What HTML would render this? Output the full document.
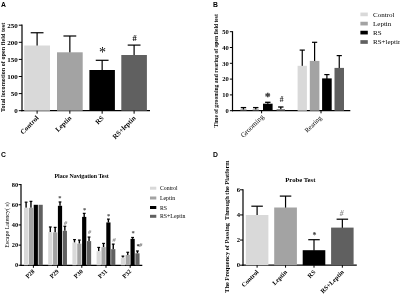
<!DOCTYPE html>
<html><head><meta charset="utf-8"><title>Figure</title>
<style>
html,body{margin:0;padding:0;background:#fff;}
body{width:400px;height:294px;overflow:hidden;}
svg{display:block;}
.s{font-family:"Liberation Serif",serif;}
.a{font-family:"Liberation Sans",sans-serif;font-weight:bold;}
</style></head><body>
<svg width="400" height="294" viewBox="0 0 400 294">
<rect width="400" height="294" fill="#fff"/>
<text class="a" x="1.00" y="6.75" font-size="6.8" text-anchor="start" font-weight="bold" fill="#000">A</text>
<line x1="22.00" y1="24.60" x2="22.00" y2="111.30" stroke="#000" stroke-width="1.2"/>
<line x1="21.40" y1="110.70" x2="150.00" y2="110.70" stroke="#000" stroke-width="1.2"/>
<line x1="18.80" y1="25.20" x2="22.00" y2="25.20" stroke="#000" stroke-width="1.0"/>
<text class="s" x="17.80" y="27.60" font-size="7.0" text-anchor="end" font-weight="bold" fill="#000">250</text>
<line x1="18.80" y1="42.30" x2="22.00" y2="42.30" stroke="#000" stroke-width="1.0"/>
<text class="s" x="17.80" y="44.70" font-size="7.0" text-anchor="end" font-weight="bold" fill="#000">200</text>
<line x1="18.80" y1="59.40" x2="22.00" y2="59.40" stroke="#000" stroke-width="1.0"/>
<text class="s" x="17.80" y="61.80" font-size="7.0" text-anchor="end" font-weight="bold" fill="#000">150</text>
<line x1="18.80" y1="76.50" x2="22.00" y2="76.50" stroke="#000" stroke-width="1.0"/>
<text class="s" x="17.80" y="78.90" font-size="7.0" text-anchor="end" font-weight="bold" fill="#000">100</text>
<line x1="18.80" y1="93.60" x2="22.00" y2="93.60" stroke="#000" stroke-width="1.0"/>
<text class="s" x="17.80" y="96.00" font-size="7.0" text-anchor="end" font-weight="bold" fill="#000">50</text>
<line x1="18.80" y1="110.70" x2="22.00" y2="110.70" stroke="#000" stroke-width="1.0"/>
<text class="s" x="17.80" y="113.10" font-size="7.0" text-anchor="end" font-weight="bold" fill="#000">0</text>
<text class="s" transform="translate(4.70,67.40) rotate(-90)" font-size="6.2" text-anchor="middle" font-weight="bold" fill="#000">Total locomotion of open field test</text>
<line x1="37.10" y1="46.00" x2="37.10" y2="32.75" stroke="#000" stroke-width="1.2"/>
<line x1="30.70" y1="32.75" x2="43.50" y2="32.75" stroke="#000" stroke-width="1.2"/>
<rect x="24.20" y="45.50" width="25.80" height="65.20" fill="#d9d9d9"/>
<line x1="37.10" y1="110.70" x2="37.10" y2="113.70" stroke="#000" stroke-width="1.0"/>
<text class="s" transform="translate(39.10,118.50) rotate(-45)" font-size="6.9" text-anchor="end" font-weight="bold" fill="#000">Control</text>
<line x1="69.85" y1="52.80" x2="69.85" y2="36.00" stroke="#000" stroke-width="1.2"/>
<line x1="63.45" y1="36.00" x2="76.25" y2="36.00" stroke="#000" stroke-width="1.2"/>
<rect x="57.00" y="52.30" width="25.70" height="58.40" fill="#a3a3a3"/>
<line x1="69.85" y1="110.70" x2="69.85" y2="113.70" stroke="#000" stroke-width="1.0"/>
<text class="s" transform="translate(71.85,118.50) rotate(-45)" font-size="6.9" text-anchor="end" font-weight="bold" fill="#000">Leptin</text>
<line x1="102.15" y1="70.50" x2="102.15" y2="60.30" stroke="#000" stroke-width="1.2"/>
<line x1="95.75" y1="60.30" x2="108.55" y2="60.30" stroke="#000" stroke-width="1.2"/>
<rect x="89.40" y="70.00" width="25.50" height="40.70" fill="#000000"/>
<line x1="102.15" y1="110.70" x2="102.15" y2="113.70" stroke="#000" stroke-width="1.0"/>
<text class="s" transform="translate(104.15,118.50) rotate(-45)" font-size="6.9" text-anchor="end" font-weight="bold" fill="#000">RS</text>
<line x1="134.10" y1="55.50" x2="134.10" y2="45.10" stroke="#000" stroke-width="1.2"/>
<line x1="127.70" y1="45.10" x2="140.50" y2="45.10" stroke="#000" stroke-width="1.2"/>
<rect x="121.30" y="55.00" width="25.60" height="55.70" fill="#606060"/>
<line x1="134.10" y1="110.70" x2="134.10" y2="113.70" stroke="#000" stroke-width="1.0"/>
<text class="s" transform="translate(136.10,118.50) rotate(-45)" font-size="6.9" text-anchor="end" font-weight="bold" fill="#000">RS+leptin</text>
<text class="s" x="102.50" y="57.30" font-size="14" text-anchor="middle" fill="#000">*</text>
<text class="s" x="134.50" y="40.80" font-size="8.5" text-anchor="middle" font-weight="bold" fill="#000">#</text>
<text class="a" x="213.00" y="6.75" font-size="6.8" text-anchor="start" font-weight="bold" fill="#000">B</text>
<line x1="232.50" y1="31.20" x2="232.50" y2="111.30" stroke="#000" stroke-width="1.2"/>
<line x1="231.90" y1="110.70" x2="350.30" y2="110.70" stroke="#000" stroke-width="1.2"/>
<line x1="229.90" y1="31.70" x2="232.50" y2="31.70" stroke="#000" stroke-width="1.0"/>
<text class="s" x="228.70" y="34.00" font-size="6.5" text-anchor="end" font-weight="bold" fill="#000">50</text>
<line x1="229.90" y1="47.50" x2="232.50" y2="47.50" stroke="#000" stroke-width="1.0"/>
<text class="s" x="228.70" y="49.80" font-size="6.5" text-anchor="end" font-weight="bold" fill="#000">40</text>
<line x1="229.90" y1="63.30" x2="232.50" y2="63.30" stroke="#000" stroke-width="1.0"/>
<text class="s" x="228.70" y="65.60" font-size="6.5" text-anchor="end" font-weight="bold" fill="#000">30</text>
<line x1="229.90" y1="79.10" x2="232.50" y2="79.10" stroke="#000" stroke-width="1.0"/>
<text class="s" x="228.70" y="81.40" font-size="6.5" text-anchor="end" font-weight="bold" fill="#000">20</text>
<line x1="229.90" y1="94.90" x2="232.50" y2="94.90" stroke="#000" stroke-width="1.0"/>
<text class="s" x="228.70" y="97.20" font-size="6.5" text-anchor="end" font-weight="bold" fill="#000">10</text>
<line x1="229.90" y1="110.70" x2="232.50" y2="110.70" stroke="#000" stroke-width="1.0"/>
<text class="s" x="228.70" y="113.00" font-size="6.5" text-anchor="end" font-weight="bold" fill="#000">0</text>
<text class="s" transform="translate(218.10,70.80) rotate(-90)" font-size="5.64" text-anchor="middle" font-weight="bold" fill="#000">Time of grooming and rearing of open field test</text>
<line x1="243.45" y1="109.60" x2="243.45" y2="107.60" stroke="#000" stroke-width="1.3"/>
<line x1="240.75" y1="107.60" x2="246.15" y2="107.60" stroke="#000" stroke-width="1.3"/>
<rect x="240.30" y="109.60" width="6.30" height="1.10" fill="#555"/>
<line x1="255.75" y1="109.60" x2="255.75" y2="107.60" stroke="#000" stroke-width="1.3"/>
<line x1="253.05" y1="107.60" x2="258.45" y2="107.60" stroke="#000" stroke-width="1.3"/>
<rect x="252.60" y="109.60" width="6.30" height="1.10" fill="#555"/>
<line x1="267.80" y1="103.70" x2="267.80" y2="102.30" stroke="#000" stroke-width="1.3"/>
<line x1="265.10" y1="102.30" x2="270.50" y2="102.30" stroke="#000" stroke-width="1.3"/>
<rect x="263.00" y="103.70" width="9.60" height="7.00" fill="#000000"/>
<line x1="280.80" y1="109.30" x2="280.80" y2="107.00" stroke="#000" stroke-width="1.3"/>
<line x1="278.10" y1="107.00" x2="283.50" y2="107.00" stroke="#000" stroke-width="1.3"/>
<rect x="276.60" y="109.30" width="8.40" height="1.40" fill="#606060"/>
<text class="s" x="267.70" y="100.40" font-size="11" text-anchor="middle" font-weight="bold" fill="#333" stroke="#333" stroke-width="0.3">*</text>
<text class="s" x="281.60" y="101.70" font-size="7.6" text-anchor="middle" font-weight="bold" fill="#222">#</text>
<line x1="302.25" y1="66.30" x2="302.25" y2="50.10" stroke="#000" stroke-width="1.2"/>
<line x1="299.65" y1="50.10" x2="304.85" y2="50.10" stroke="#000" stroke-width="1.2"/>
<rect x="297.60" y="65.80" width="9.30" height="44.90" fill="#d9d9d9"/>
<line x1="314.60" y1="61.40" x2="314.60" y2="42.30" stroke="#000" stroke-width="1.2"/>
<line x1="312.00" y1="42.30" x2="317.20" y2="42.30" stroke="#000" stroke-width="1.2"/>
<rect x="309.80" y="60.90" width="9.60" height="49.80" fill="#a3a3a3"/>
<line x1="326.90" y1="78.90" x2="326.90" y2="74.60" stroke="#000" stroke-width="1.2"/>
<line x1="324.30" y1="74.60" x2="329.50" y2="74.60" stroke="#000" stroke-width="1.2"/>
<rect x="322.10" y="78.40" width="9.60" height="32.30" fill="#000000"/>
<line x1="339.25" y1="68.40" x2="339.25" y2="55.60" stroke="#000" stroke-width="1.2"/>
<line x1="336.65" y1="55.60" x2="341.85" y2="55.60" stroke="#000" stroke-width="1.2"/>
<rect x="334.50" y="67.90" width="9.50" height="42.80" fill="#606060"/>
<line x1="261.60" y1="110.70" x2="261.60" y2="113.30" stroke="#000" stroke-width="1.0"/>
<text class="s" transform="translate(264.20,117.30) rotate(-45)" font-size="7.15" text-anchor="end" fill="#000">Grooming</text>
<line x1="321.00" y1="110.70" x2="321.00" y2="113.30" stroke="#000" stroke-width="1.0"/>
<text class="s" transform="translate(322.00,118.30) rotate(-45)" font-size="6.6" text-anchor="end" fill="#000">Rearing</text>
<rect x="360.40" y="12.55" width="7.40" height="3.70" fill="#d9d9d9"/>
<text class="s" x="373.00" y="16.60" font-size="7.0" text-anchor="start" fill="#000">Control</text>
<rect x="360.40" y="21.75" width="7.40" height="3.70" fill="#a3a3a3"/>
<text class="s" x="373.00" y="25.80" font-size="7.0" text-anchor="start" fill="#000">Leptin</text>
<rect x="360.40" y="30.75" width="7.40" height="3.70" fill="#000000"/>
<text class="s" x="373.00" y="34.80" font-size="7.0" text-anchor="start" fill="#000">RS</text>
<rect x="360.40" y="40.15" width="7.40" height="3.70" fill="#606060"/>
<text class="s" x="373.00" y="44.20" font-size="7.0" text-anchor="start" fill="#000">RS+leptin</text>
<text class="a" x="0.90" y="157.00" font-size="6.8" text-anchor="start" font-weight="bold" fill="#000">C</text>
<line x1="21.00" y1="184.00" x2="21.00" y2="265.90" stroke="#000" stroke-width="1.2"/>
<line x1="20.40" y1="265.30" x2="142.30" y2="265.30" stroke="#000" stroke-width="1.2"/>
<line x1="18.60" y1="184.60" x2="21.00" y2="184.60" stroke="#000" stroke-width="1.0"/>
<text class="s" x="18.10" y="186.80" font-size="6.4" text-anchor="end" font-weight="bold" fill="#000">80</text>
<line x1="18.60" y1="204.77" x2="21.00" y2="204.77" stroke="#000" stroke-width="1.0"/>
<text class="s" x="18.10" y="206.97" font-size="6.4" text-anchor="end" font-weight="bold" fill="#000">60</text>
<line x1="18.60" y1="224.94" x2="21.00" y2="224.94" stroke="#000" stroke-width="1.0"/>
<text class="s" x="18.10" y="227.14" font-size="6.4" text-anchor="end" font-weight="bold" fill="#000">40</text>
<line x1="18.60" y1="245.11" x2="21.00" y2="245.11" stroke="#000" stroke-width="1.0"/>
<text class="s" x="18.10" y="247.31" font-size="6.4" text-anchor="end" font-weight="bold" fill="#000">20</text>
<line x1="18.60" y1="265.28" x2="21.00" y2="265.28" stroke="#000" stroke-width="1.0"/>
<text class="s" x="18.10" y="267.48" font-size="6.4" text-anchor="end" font-weight="bold" fill="#000">0</text>
<text class="s" transform="translate(9.00,225.00) rotate(-90)" font-size="6.0" text-anchor="middle" fill="#000">Escape Latency( s)</text>
<text class="s" x="81.60" y="178.30" font-size="5.93" text-anchor="middle" font-weight="bold" fill="#000">Place Navigation Test</text>
<line x1="26.10" y1="207.82" x2="26.10" y2="202.17" stroke="#000" stroke-width="1.4"/>
<line x1="24.70" y1="202.17" x2="27.50" y2="202.17" stroke="#000" stroke-width="1.2"/>
<rect x="24.00" y="207.82" width="4.20" height="57.48" fill="#d9d9d9"/>
<line x1="30.95" y1="207.82" x2="30.95" y2="201.36" stroke="#000" stroke-width="1.4"/>
<line x1="29.55" y1="201.36" x2="32.35" y2="201.36" stroke="#000" stroke-width="1.2"/>
<rect x="28.85" y="207.82" width="4.20" height="57.48" fill="#a3a3a3"/>
<rect x="33.70" y="204.79" width="4.20" height="60.51" fill="#000000"/>
<rect x="38.55" y="204.79" width="4.20" height="60.51" fill="#606060"/>
<line x1="33.40" y1="265.30" x2="33.40" y2="267.80" stroke="#000" stroke-width="1.0"/>
<text class="s" transform="translate(35.00,271.80) rotate(-45)" font-size="6.2" text-anchor="end" font-weight="bold" fill="#000">P28</text>
<line x1="50.30" y1="232.02" x2="50.30" y2="226.98" stroke="#000" stroke-width="1.4"/>
<line x1="48.90" y1="226.98" x2="51.70" y2="226.98" stroke="#000" stroke-width="1.2"/>
<rect x="48.20" y="232.02" width="4.20" height="33.28" fill="#d9d9d9"/>
<line x1="55.15" y1="232.42" x2="55.15" y2="227.38" stroke="#000" stroke-width="1.4"/>
<line x1="53.75" y1="227.38" x2="56.55" y2="227.38" stroke="#000" stroke-width="1.2"/>
<rect x="53.05" y="232.42" width="4.20" height="32.88" fill="#a3a3a3"/>
<line x1="60.00" y1="205.80" x2="60.00" y2="201.97" stroke="#000" stroke-width="1.4"/>
<line x1="58.60" y1="201.97" x2="61.40" y2="201.97" stroke="#000" stroke-width="1.2"/>
<rect x="57.90" y="205.80" width="4.20" height="59.50" fill="#000000"/>
<line x1="64.85" y1="230.81" x2="64.85" y2="226.27" stroke="#000" stroke-width="1.4"/>
<line x1="63.45" y1="226.27" x2="66.25" y2="226.27" stroke="#000" stroke-width="1.2"/>
<rect x="62.75" y="230.81" width="4.20" height="34.49" fill="#606060"/>
<line x1="57.60" y1="265.30" x2="57.60" y2="267.80" stroke="#000" stroke-width="1.0"/>
<text class="s" transform="translate(59.20,271.80) rotate(-45)" font-size="6.2" text-anchor="end" font-weight="bold" fill="#000">P29</text>
<line x1="74.50" y1="242.61" x2="74.50" y2="239.58" stroke="#000" stroke-width="1.4"/>
<line x1="73.10" y1="239.58" x2="75.90" y2="239.58" stroke="#000" stroke-width="1.2"/>
<rect x="72.40" y="242.61" width="4.20" height="22.69" fill="#d9d9d9"/>
<line x1="79.35" y1="243.62" x2="79.35" y2="240.09" stroke="#000" stroke-width="1.4"/>
<line x1="77.95" y1="240.09" x2="80.75" y2="240.09" stroke="#000" stroke-width="1.2"/>
<rect x="77.25" y="243.62" width="4.20" height="21.68" fill="#a3a3a3"/>
<line x1="84.20" y1="216.89" x2="84.20" y2="213.36" stroke="#000" stroke-width="1.4"/>
<line x1="82.80" y1="213.36" x2="85.60" y2="213.36" stroke="#000" stroke-width="1.2"/>
<rect x="82.10" y="216.89" width="4.20" height="48.41" fill="#000000"/>
<line x1="89.05" y1="241.10" x2="89.05" y2="237.06" stroke="#000" stroke-width="1.4"/>
<line x1="87.65" y1="237.06" x2="90.45" y2="237.06" stroke="#000" stroke-width="1.2"/>
<rect x="86.95" y="241.10" width="4.20" height="24.20" fill="#606060"/>
<line x1="81.80" y1="265.30" x2="81.80" y2="267.80" stroke="#000" stroke-width="1.0"/>
<text class="s" transform="translate(83.40,271.80) rotate(-45)" font-size="6.2" text-anchor="end" font-weight="bold" fill="#000">P30</text>
<line x1="98.70" y1="251.18" x2="98.70" y2="247.45" stroke="#000" stroke-width="1.4"/>
<line x1="97.30" y1="247.45" x2="100.10" y2="247.45" stroke="#000" stroke-width="1.2"/>
<rect x="96.60" y="251.18" width="4.20" height="14.12" fill="#d9d9d9"/>
<line x1="103.55" y1="247.15" x2="103.55" y2="243.42" stroke="#000" stroke-width="1.4"/>
<line x1="102.15" y1="243.42" x2="104.95" y2="243.42" stroke="#000" stroke-width="1.2"/>
<rect x="101.45" y="247.15" width="4.20" height="18.15" fill="#a3a3a3"/>
<line x1="108.40" y1="222.44" x2="108.40" y2="219.11" stroke="#000" stroke-width="1.4"/>
<line x1="107.00" y1="219.11" x2="109.80" y2="219.11" stroke="#000" stroke-width="1.2"/>
<rect x="106.30" y="222.44" width="4.20" height="42.86" fill="#000000"/>
<line x1="113.25" y1="249.16" x2="113.25" y2="244.12" stroke="#000" stroke-width="1.4"/>
<line x1="111.85" y1="244.12" x2="114.65" y2="244.12" stroke="#000" stroke-width="1.2"/>
<rect x="111.15" y="249.16" width="4.20" height="16.14" fill="#606060"/>
<line x1="106.00" y1="265.30" x2="106.00" y2="267.80" stroke="#000" stroke-width="1.0"/>
<text class="s" transform="translate(107.60,271.80) rotate(-45)" font-size="6.2" text-anchor="end" font-weight="bold" fill="#000">P31</text>
<line x1="122.90" y1="257.64" x2="122.90" y2="256.12" stroke="#000" stroke-width="1.4"/>
<line x1="121.50" y1="256.12" x2="124.30" y2="256.12" stroke="#000" stroke-width="1.2"/>
<rect x="120.80" y="257.64" width="4.20" height="7.66" fill="#d9d9d9"/>
<line x1="127.75" y1="254.91" x2="127.75" y2="252.29" stroke="#000" stroke-width="1.4"/>
<line x1="126.35" y1="252.29" x2="129.15" y2="252.29" stroke="#000" stroke-width="1.2"/>
<rect x="125.65" y="254.91" width="4.20" height="10.39" fill="#a3a3a3"/>
<line x1="132.60" y1="238.88" x2="132.60" y2="237.47" stroke="#000" stroke-width="1.4"/>
<line x1="131.20" y1="237.47" x2="134.00" y2="237.47" stroke="#000" stroke-width="1.2"/>
<rect x="130.50" y="238.88" width="4.20" height="26.42" fill="#000000"/>
<line x1="137.45" y1="253.30" x2="137.45" y2="250.98" stroke="#000" stroke-width="1.4"/>
<line x1="136.05" y1="250.98" x2="138.85" y2="250.98" stroke="#000" stroke-width="1.2"/>
<rect x="135.35" y="253.30" width="4.20" height="12.00" fill="#606060"/>
<line x1="130.20" y1="265.30" x2="130.20" y2="267.80" stroke="#000" stroke-width="1.0"/>
<text class="s" transform="translate(131.80,271.80) rotate(-45)" font-size="6.2" text-anchor="end" font-weight="bold" fill="#000">P32</text>
<text class="s" x="59.80" y="200.30" font-size="6.5" text-anchor="middle" font-weight="bold" fill="#444">*</text>
<text class="s" x="84.60" y="211.80" font-size="6.5" text-anchor="middle" font-weight="bold" fill="#444">*</text>
<text class="s" x="108.60" y="217.60" font-size="6.5" text-anchor="middle" font-weight="bold" fill="#444">*</text>
<text class="s" x="133.20" y="235.40" font-size="6.5" text-anchor="middle" font-weight="bold" fill="#444">*</text>
<text class="s" x="65.70" y="225.20" font-size="6.4" text-anchor="middle" font-weight="bold" fill="#8a8a8a" font-style="italic">#</text>
<text class="s" x="89.70" y="234.40" font-size="6.4" text-anchor="middle" font-weight="bold" fill="#8a8a8a" font-style="italic">#</text>
<text class="s" x="114.20" y="242.00" font-size="6.4" text-anchor="middle" font-weight="bold" fill="#8a8a8a" font-style="italic">#</text>
<text class="s" x="136.4" y="248.2" font-size="6.6" font-weight="bold" fill="#222">*<tspan font-size="6" font-style="italic" fill="#777" dy="-0.8" dx="-0.4">#</tspan></text>
<rect x="150.00" y="186.70" width="6.30" height="3.00" fill="#d9d9d9"/>
<text class="s" x="160.00" y="190.20" font-size="5.8" text-anchor="start" fill="#000">Control</text>
<rect x="150.00" y="196.50" width="6.30" height="3.00" fill="#a3a3a3"/>
<text class="s" x="160.00" y="200.00" font-size="5.8" text-anchor="start" fill="#000">Leptin</text>
<rect x="150.00" y="206.00" width="6.30" height="3.00" fill="#000000"/>
<text class="s" x="160.00" y="209.50" font-size="5.8" text-anchor="start" fill="#000">RS</text>
<rect x="150.00" y="214.80" width="6.30" height="3.00" fill="#606060"/>
<text class="s" x="160.00" y="218.30" font-size="5.8" text-anchor="start" fill="#000">RS+Leptin</text>
<text class="a" x="213.00" y="157.00" font-size="6.8" text-anchor="start" font-weight="bold" fill="#000">D</text>
<line x1="243.00" y1="189.20" x2="243.00" y2="265.80" stroke="#000" stroke-width="1.2"/>
<line x1="242.40" y1="265.20" x2="356.80" y2="265.20" stroke="#000" stroke-width="1.2"/>
<line x1="240.00" y1="189.80" x2="243.00" y2="189.80" stroke="#000" stroke-width="1.0"/>
<text class="s" x="240.10" y="192.10" font-size="6.6" text-anchor="end" font-weight="bold" fill="#000">6</text>
<line x1="240.00" y1="214.93" x2="243.00" y2="214.93" stroke="#000" stroke-width="1.0"/>
<text class="s" x="240.10" y="217.23" font-size="6.6" text-anchor="end" font-weight="bold" fill="#000">4</text>
<line x1="240.00" y1="240.06" x2="243.00" y2="240.06" stroke="#000" stroke-width="1.0"/>
<text class="s" x="240.10" y="242.36" font-size="6.6" text-anchor="end" font-weight="bold" fill="#000">2</text>
<line x1="240.00" y1="265.19" x2="243.00" y2="265.19" stroke="#000" stroke-width="1.0"/>
<text class="s" x="240.10" y="267.49" font-size="6.6" text-anchor="end" font-weight="bold" fill="#000">0</text>
<text class="s" transform="translate(228.90,226.60) rotate(-90)" font-size="6.33" text-anchor="middle" font-weight="bold" fill="#000" xml:space="preserve">The Frequency of Passing  Through the Platform</text>
<text class="s" x="300.30" y="181.80" font-size="6.7" text-anchor="middle" font-weight="bold" fill="#000">Probe Test</text>
<line x1="257.10" y1="215.50" x2="257.10" y2="206.20" stroke="#000" stroke-width="1.2"/>
<line x1="251.35" y1="206.20" x2="262.85" y2="206.20" stroke="#000" stroke-width="1.2"/>
<rect x="245.80" y="215.00" width="22.60" height="50.20" fill="#d9d9d9"/>
<line x1="257.10" y1="265.20" x2="257.10" y2="267.70" stroke="#000" stroke-width="1.0"/>
<text class="s" transform="translate(259.00,272.60) rotate(-45)" font-size="6.4" text-anchor="end" font-weight="bold" fill="#000">Control</text>
<line x1="285.55" y1="208.00" x2="285.55" y2="196.10" stroke="#000" stroke-width="1.2"/>
<line x1="279.80" y1="196.10" x2="291.30" y2="196.10" stroke="#000" stroke-width="1.2"/>
<rect x="274.20" y="207.50" width="22.70" height="57.70" fill="#a3a3a3"/>
<line x1="285.55" y1="265.20" x2="285.55" y2="267.70" stroke="#000" stroke-width="1.0"/>
<text class="s" transform="translate(287.45,272.60) rotate(-45)" font-size="6.4" text-anchor="end" font-weight="bold" fill="#000">Leptin</text>
<line x1="314.00" y1="250.70" x2="314.00" y2="239.70" stroke="#000" stroke-width="1.2"/>
<line x1="308.25" y1="239.70" x2="319.75" y2="239.70" stroke="#000" stroke-width="1.2"/>
<rect x="302.70" y="250.20" width="22.60" height="15.00" fill="#000000"/>
<line x1="314.00" y1="265.20" x2="314.00" y2="267.70" stroke="#000" stroke-width="1.0"/>
<text class="s" transform="translate(315.90,272.60) rotate(-45)" font-size="6.4" text-anchor="end" font-weight="bold" fill="#000">RS</text>
<line x1="342.35" y1="228.10" x2="342.35" y2="219.20" stroke="#000" stroke-width="1.2"/>
<line x1="336.60" y1="219.20" x2="348.10" y2="219.20" stroke="#000" stroke-width="1.2"/>
<rect x="331.10" y="227.60" width="22.50" height="37.60" fill="#606060"/>
<line x1="342.35" y1="265.20" x2="342.35" y2="267.70" stroke="#000" stroke-width="1.0"/>
<text class="s" transform="translate(344.25,272.60) rotate(-45)" font-size="6.4" text-anchor="end" font-weight="bold" fill="#000">RS+Leptin</text>
<text class="s" x="314.40" y="237.60" font-size="8" text-anchor="middle" font-weight="bold" fill="#333">*</text>
<text class="s" x="341.60" y="215.80" font-size="7.6" text-anchor="middle" font-weight="bold" fill="#8a8a8a" font-style="italic">#</text>
</svg>
</body></html>
